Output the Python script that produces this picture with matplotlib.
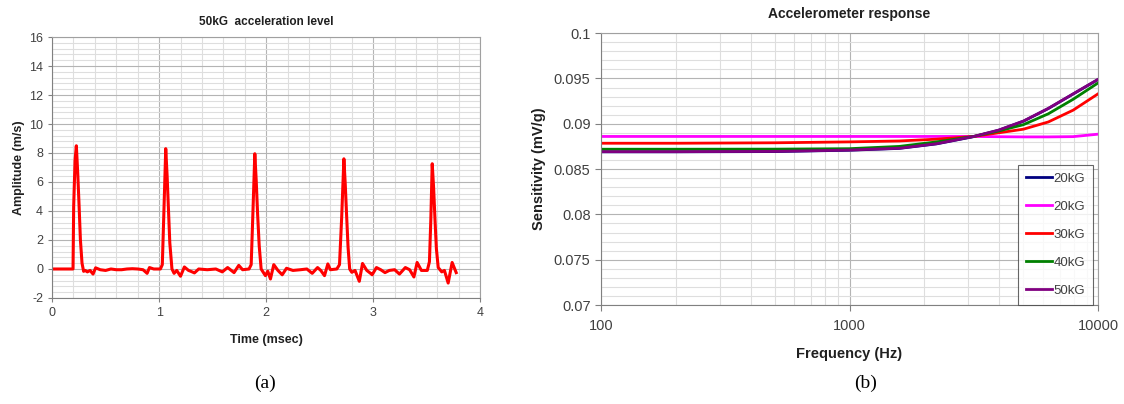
import matplotlib.pyplot as plt
from matplotlib.ticker import MultipleLocator, LogLocator, FixedLocator, NullFormatter
import numpy as np

plt.rcParams['font.family'] = ['Liberation Sans', 'DejaVu Sans']
plt.rcParams['axes.unicode_minus'] = False

# (a) 50kG pulse train
tiempo = [0.0, 0.196, 0.202, 0.215, 0.227, 0.24, 0.253, 0.265, 0.28, 0.295, 0.31, 0.33, 0.355, 0.383, 0.407,
          0.45, 0.5, 0.55, 0.6, 0.65, 0.7, 0.75, 0.8, 0.85, 0.888, 0.91, 0.95, 1.012,
          1.03, 1.045, 1.062, 1.075, 1.088, 1.10, 1.12, 1.14, 1.165, 1.2, 1.236, 1.275, 1.293, 1.33, 1.37,
          1.45, 1.53, 1.59, 1.64, 1.70, 1.744, 1.78, 1.84,
          1.86, 1.875, 1.894, 1.907, 1.92, 1.935, 1.953, 1.993, 2.015, 2.04, 2.071, 2.11, 2.15, 2.19,
          2.25, 2.32, 2.38, 2.43, 2.48, 2.51, 2.545, 2.576, 2.60, 2.66,
          2.685, 2.705, 2.726, 2.739, 2.752, 2.765, 2.78, 2.80, 2.83, 2.87, 2.90, 2.94, 2.975, 2.99, 3.03,
          3.07, 3.11, 3.15, 3.2, 3.245, 3.30, 3.34, 3.38, 3.41, 3.45, 3.505,
          3.525, 3.538, 3.551, 3.564, 3.577, 3.59, 3.607, 3.64, 3.665, 3.70, 3.737, 3.775]
amplitud = [0.0, 0.0, 4.3, 7.5, 8.5, 6.6, 4.3, 2.0, 0.4, -0.16, -0.1, -0.2, -0.1, -0.35, 0.08,
            -0.05, -0.1, 0.0, -0.05, -0.05, 0.0, 0.02, 0.0, -0.05, -0.3, 0.1, 0.0, 0.0,
            0.3, 4.0, 8.3, 6.4, 4.0, 1.8, 0.0, -0.3, -0.1, -0.5, 0.14, -0.1, -0.15, -0.27, 0.0,
            -0.05, 0.0, -0.2, 0.1, -0.25, 0.25, -0.05, 0.0,
            0.3, 3.6, 7.95, 6.1, 3.8, 1.6, 0.0, -0.46, -0.15, -0.69, 0.3, -0.1, -0.4, 0.05,
            -0.1, -0.05, 0.0, -0.3, 0.1, -0.1, -0.46, 0.35, -0.05, 0.0,
            0.3, 3.5, 7.6, 5.8, 3.6, 1.5, 0.0, -0.23, -0.1, -0.85, 0.38, -0.1, -0.3, -0.4, 0.1,
            -0.05, -0.25, -0.1, -0.05, -0.35, 0.1, -0.05, -0.55, 0.45, -0.1, -0.1,
            0.5, 3.4, 7.26, 5.6, 3.4, 1.4, 0.1, -0.2, -0.1, -0.97, 0.45, -0.25]

# (b) sensitivity vs frequency
frecuencia = [100, 200, 500, 1000, 1585, 2240, 3160, 3980, 5010, 6310, 7940, 10000]
s20_azul = [0.0869, 0.0869, 0.08693, 0.08708, 0.08728, 0.08778, 0.08858, 0.08928, 0.09028, 0.09168, 0.09328, 0.09488]
s20_rosa = [0.0886, 0.0886, 0.0886, 0.0886, 0.0886, 0.0886, 0.0886, 0.08857, 0.08855, 0.08855, 0.08858, 0.08885]
s30 = [0.08785, 0.08785, 0.0879, 0.0880, 0.0881, 0.0883, 0.0886, 0.0890, 0.0894, 0.0902, 0.0915, 0.0933]
s40 = [0.08719, 0.08719, 0.0872, 0.08725, 0.0875, 0.0880, 0.0886, 0.0892, 0.0899, 0.0911, 0.0927, 0.0945]
s50 = [0.08692, 0.08692, 0.08695, 0.0871, 0.0873, 0.0878, 0.0886, 0.0893, 0.0903, 0.0917, 0.0933, 0.0949]
etiquetas = ['20kG', '20kG', '30kG', '40kG', '50kG']
colores = ['#000080', '#ff00ff', '#ff0000', '#008000', '#800080']

gris_txt = '#404040'
mayor = '#b4b4b4'
menor = '#dedede'

fig = plt.figure(figsize=(11.24, 4.04), dpi=100)

# ---- panel (a)
ax1 = fig.add_axes([0.0463, 0.2624, 0.381, 0.646])
ax1.plot(tiempo, amplitud, color='#ff0000', lw=2.2, solid_joinstyle='round')
ax1.set_xlim(0, 4)
ax1.set_ylim(-2, 16)
ax1.xaxis.set_major_locator(MultipleLocator(1))
ax1.xaxis.set_minor_locator(MultipleLocator(0.2))
ax1.yaxis.set_major_locator(MultipleLocator(2))
ax1.yaxis.set_minor_locator(MultipleLocator(0.4))
ax1.grid(which='major', color=mayor, lw=0.8)
ax1.grid(which='minor', color=menor, lw=0.8)
ax1.set_axisbelow(True)
ax1.tick_params(which='minor', length=0)
ax1.tick_params(which='major', length=3, color='#808080', labelcolor=gris_txt, labelsize=9)
for s in ax1.spines.values():
    s.set_color('#a0a0a0')
ax1.spines['left'].set_color('#808080')
ax1.spines['bottom'].set_color('#808080')
ax1.set_title('50kG  acceleration level', fontsize=8.5, fontweight='bold', color='#202020', pad=9)
ax1.set_xlabel('Time (msec)', fontsize=9, fontweight='bold', color='#202020', labelpad=11)
ax1.set_ylabel('Amplitude (m/s)', fontsize=9, fontweight='bold', color='#202020', labelpad=3)

# ---- panel (b)
ax2 = fig.add_axes([0.5347, 0.245, 0.4422, 0.673])
for val, c, lab in zip([s20_azul, s20_rosa, s30, s40, s50], colores, etiquetas):
    ax2.semilogx(frecuencia, val, color=c, lw=2.0, label=lab)
ax2.set_xlim(100, 10000)
ax2.set_ylim(0.07, 0.1)
ax2.xaxis.set_major_locator(FixedLocator([100, 1000, 10000]))
ax2.xaxis.set_major_formatter(plt.FuncFormatter(lambda v, p: '%d' % v))
ax2.xaxis.set_minor_locator(LogLocator(base=10, subs=np.arange(2, 10)))
ax2.xaxis.set_minor_formatter(NullFormatter())
ax2.yaxis.set_major_locator(MultipleLocator(0.005))
ax2.yaxis.set_minor_locator(MultipleLocator(0.001))
ax2.yaxis.set_major_formatter(plt.FuncFormatter(lambda v, p: ('%.3f' % v).rstrip('0').rstrip('.')))
ax2.grid(which='major', color=mayor, lw=0.8)
ax2.grid(which='minor', color=menor, lw=0.8)
ax2.set_axisbelow(True)
ax2.tick_params(which='minor', length=0)
ax2.tick_params(which='major', length=4, color='#808080', labelcolor=gris_txt, labelsize=10.5)
ax2.tick_params(axis='x', pad=6)
for s in ax2.spines.values():
    s.set_color('#a0a0a0')
ax2.spines['left'].set_color('#808080')
ax2.spines['bottom'].set_color('#808080')
ax2.set_title('Accelerometer response', fontsize=10, fontweight='bold', color='#202020', pad=11)
ax2.set_xlabel('Frequency (Hz)', fontsize=10.5, fontweight='bold', color='#202020', labelpad=10)
ax2.set_ylabel('Sensitivity (mV/g)', fontsize=10.5, fontweight='bold', color='#202020', labelpad=6)
ley = ax2.legend(loc='lower right', fontsize=9.5, frameon=True, fancybox=False, handlelength=2.0,
                 handletextpad=0.1, labelspacing=1.2, borderaxespad=0.0, borderpad=0.6,
                 bbox_to_anchor=(0.99, 0.0))
ley.get_frame().set_edgecolor('#404040')
ley.get_frame().set_linewidth(0.8)
for t in ley.get_texts():
    t.set_color(gris_txt)

fig.text(0.236, 0.052, '(a)', fontsize=14, family='Liberation Serif', ha='center', va='center')
fig.text(0.770, 0.052, '(b)', fontsize=14, family='Liberation Serif', ha='center', va='center')

fig.savefig('out.png', dpi=100)
